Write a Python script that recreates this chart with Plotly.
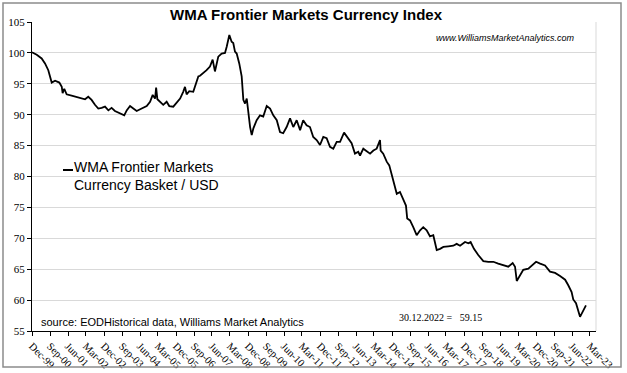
import plotly.graph_objects as go

# ---- data ----
dates = [
    "1999-12-01", "2000-02-11", "2000-04-26", "2000-06-16", "2000-08-05", "2000-09-11", "2000-09-26",
    "2000-11-16", "2001-01-20", "2001-02-26", "2001-03-11", "2001-04-05", "2001-05-11", "2001-07-26",
    "2001-10-11", "2001-12-26", "2002-02-15", "2002-04-05", "2002-05-26", "2002-07-16", "2002-09-05",
    "2002-10-26", "2002-12-16", "2003-02-05", "2003-03-26", "2003-05-16", "2003-08-01", "2003-10-05",
    "2003-11-11", "2004-01-01", "2004-02-20", "2004-04-11", "2004-06-26", "2004-09-11", "2004-11-01",
    "2004-12-11", "2005-01-16", "2005-02-01", "2005-02-20", "2005-04-01", "2005-05-20", "2005-07-11",
    "2005-08-20", "2005-10-20", "2005-12-11", "2006-02-01", "2006-03-20", "2006-04-16", "2006-05-11",
    "2006-06-20", "2006-08-20", "2006-10-01", "2006-11-05", "2006-12-01", "2007-01-20", "2007-03-11",
    "2007-05-01", "2007-06-11", "2007-07-16", "2007-09-05", "2007-10-26", "2007-12-16", "2008-01-11",
    "2008-02-20", "2008-03-26", "2008-04-20", "2008-05-16", "2008-06-11", "2008-07-20", "2008-08-26",
    "2008-09-20", "2008-10-16", "2008-11-11", "2008-12-05", "2009-01-01", "2009-01-26", "2009-02-20",
    "2009-04-11", "2009-06-01", "2009-07-20", "2009-09-11", "2009-11-01", "2009-12-20", "2010-02-11",
    "2010-04-01", "2010-05-20", "2010-07-11", "2010-09-01", "2010-10-20", "2010-12-11", "2011-02-01",
    "2011-03-20", "2011-05-11", "2011-07-01", "2011-08-20", "2011-10-11", "2011-12-01", "2012-01-20",
    "2012-03-11", "2012-05-01", "2012-06-20", "2012-08-11", "2012-10-01", "2012-12-01", "2013-02-05",
    "2013-03-26", "2013-05-16", "2013-07-05", "2013-08-01", "2013-09-20", "2013-11-11", "2014-01-01",
    "2014-02-20", "2014-04-11", "2014-06-01", "2014-06-11", "2014-07-20", "2014-09-11", "2014-10-20",
    "2014-11-26", "2015-01-01", "2015-02-11", "2015-04-01", "2015-05-20", "2015-07-01", "2015-07-20",
    "2015-09-01", "2015-10-20", "2015-12-11", "2016-02-01", "2016-03-20", "2016-05-11", "2016-07-01",
    "2016-08-20", "2016-10-11", "2016-12-01", "2017-01-20", "2017-04-05", "2017-06-20", "2017-08-11",
    "2017-10-01", "2017-12-16", "2018-02-05", "2018-03-11", "2018-05-01", "2018-07-05", "2018-09-20",
    "2018-12-05", "2019-02-20", "2019-05-05", "2019-07-20", "2019-10-05", "2019-12-11", "2020-01-16",
    "2020-02-11", "2020-04-01", "2020-05-20", "2020-08-05", "2020-10-11", "2020-12-01", "2021-02-01",
    "2021-04-16", "2021-07-01", "2021-09-16", "2021-12-01", "2022-02-16", "2022-04-05", "2022-05-26",
    "2022-06-20", "2022-08-01", "2022-10-01", "2022-12-30",
]
values = [
    100.1, 99.7, 99.1, 98.3, 97.2, 95.9, 95.2,
    95.5, 95.2, 94.5, 93.5, 94.2, 93.3, 93.1,
    92.9, 92.6, 92.5, 92.9, 92.4, 91.6, 91.0,
    91.1, 91.3, 90.7, 91.1, 90.6, 90.2, 89.9,
    90.7, 91.4, 91.0, 90.6, 91.0, 91.4, 92.1,
    93.2, 92.6, 94.4, 92.5, 92.1, 91.6, 92.1,
    91.4, 91.3, 92.0, 92.6, 93.7, 94.5, 93.3,
    93.8, 93.7, 95.1, 96.2, 96.3, 96.7, 97.2,
    97.8, 98.9, 97.0, 99.4, 99.9, 100.0, 101.0,
    102.9, 101.8, 101.6, 100.2, 99.9, 98.3, 96.2,
    92.4, 91.8, 92.6, 90.2, 88.0, 86.7, 87.8,
    89.1, 89.9, 89.7, 91.4, 91.0, 89.9, 89.1,
    87.2, 87.0, 88.0, 89.4, 88.0, 89.1, 87.5,
    89.1, 88.3, 88.0, 86.4, 85.9, 85.1, 86.4,
    86.2, 84.8, 84.5, 85.6, 85.6, 87.1, 86.2,
    85.4, 83.7, 84.0, 83.4, 84.5, 84.1, 83.7,
    84.2, 84.5, 85.9, 84.2, 83.7, 82.4, 81.8,
    80.2, 78.8, 77.2, 77.5, 76.4, 75.3, 73.2,
    72.9, 71.8, 70.5, 71.3, 71.8, 71.3, 70.3,
    70.5, 68.1, 68.3, 68.6, 68.7, 68.8, 69.1,
    68.8, 69.4, 69.2, 69.4, 68.3, 67.3, 66.3,
    66.2, 66.2, 65.9, 65.6, 65.4, 66.0, 65.4,
    63.1, 64.0, 64.9, 65.1, 65.7, 66.2, 65.9,
    65.6, 64.6, 64.4, 63.9, 63.3, 62.4, 61.3,
    60.1, 59.5, 57.3, 59.15,
]

tick_dates = [
    "1999-12-01", "2000-09-01", "2001-06-01", "2002-03-01", "2002-12-01", "2003-09-01",
    "2004-06-01", "2005-03-01", "2005-12-01", "2006-09-01", "2007-06-01", "2008-03-01",
    "2008-12-01", "2009-09-01", "2010-06-01", "2011-03-01", "2011-12-01", "2012-09-01",
    "2013-06-01", "2014-03-01", "2014-12-01", "2015-09-01", "2016-06-01", "2017-03-01",
    "2017-12-01", "2018-09-01", "2019-06-01", "2020-03-01", "2020-12-01", "2021-09-01",
    "2022-06-01", "2023-03-01",
]
tick_labels = [
    "Dec-99", "Sep-00", "Jun-01", "Mar-02", "Dec-02", "Sep-03", "Jun-04", "Mar-05",
    "Dec-05", "Sep-06", "Jun-07", "Mar-08", "Dec-08", "Sep-09", "Jun-10", "Mar-11",
    "Dec-11", "Sep-12", "Jun-13", "Mar-14", "Dec-14", "Sep-15", "Jun-16", "Mar-17",
    "Dec-17", "Sep-18", "Jun-19", "Mar-20", "Dec-20", "Sep-21", "Jun-22", "Mar-23",
]
y_ticks = [55, 60, 65, 70, 75, 80, 85, 90, 95, 100, 105]

series_name = "WMA Frontier Markets<br>Currency Basket / USD"
title_text = "WMA Frontier Markets Currency Index"
site_text = "www.WilliamsMarketAnalytics.com"
source_text = "source: EODHistorical data, Williams Market Analytics"
last_text = "30.12.2022 =   59.15"

# ---- layout geometry (pixels) ----
W, H = 627, 373
L, R, T, B = 32, 596, 22, 331


def px(x):
    return (x - L) / (R - L)


def py(y):
    return (B - y) / (B - T)


fig = go.Figure()
fig.add_trace(go.Scatter(
    x=dates, y=values, mode="lines", name=series_name,
    line=dict(color="#000000", width=1.8), showlegend=False,
))

serif = "Liberation Serif, Times New Roman, serif"
sans = "Liberation Sans, Arial, sans-serif"

fig.update_layout(
    width=W, height=H,
    margin=dict(l=L, r=W - R, t=T, b=H - B, pad=0, autoexpand=False),
    paper_bgcolor="white", plot_bgcolor="white",
    xaxis=dict(
        type="date", range=["1999-12-01", "2023-06-01"],
        tickmode="array", tickvals=tick_dates, ticktext=tick_labels,
        tickangle=45, ticks="outside", ticklen=4, tickcolor="#000",
        showline=True, linecolor="#000", linewidth=1,
        showgrid=False, zeroline=False, automargin=False,
        tickfont=dict(family=serif, size=10.5, color="#000"),
    ),
    yaxis=dict(
        range=[55, 105], tickmode="array", tickvals=y_ticks,
        ticks="outside", ticklen=4, tickcolor="#000",
        showline=True, linecolor="#000", linewidth=1,
        showgrid=True, gridcolor="#d9d9d9", gridwidth=1,
        zeroline=False, automargin=False,
        tickfont=dict(family=serif, size=11, color="#000"),
    ),
)

shapes = [
    # plot area right border
    dict(type="line", xref="paper", yref="paper", x0=1, x1=1, y0=0, y1=1,
         line=dict(color="#d9d9d9", width=1)),
    # outer chart border
    dict(type="rect", xref="paper", yref="paper",
         x0=px(3), x1=px(621), y0=py(367), y1=py(3),
         line=dict(color="#8c8c8c", width=1.5)),
    # legend line sample
    dict(type="line", xref="paper", yref="paper",
         x0=px(63), x1=px(73), y0=py(170), y1=py(170),
         line=dict(color="#000", width=2)),
]
fig.update_layout(shapes=shapes)

annotations = [
    dict(text="<b>" + title_text + "</b>", x=px(306), y=py(14), xref="paper", yref="paper",
         showarrow=False, xanchor="center", yanchor="middle",
         font=dict(family=sans, size=15, color="#000")),
    dict(text="<i>" + site_text + "</i>", x=px(576), y=py(38), xref="paper", yref="paper",
         showarrow=False, xanchor="right", yanchor="middle",
         font=dict(family=sans, size=9, color="#000")),
    dict(text=series_name, x=px(72), y=py(176), xref="paper", yref="paper",
         showarrow=False, xanchor="left", yanchor="middle", align="left",
         font=dict(family=sans, size=14, color="#000")),
    dict(text=source_text, x=px(39), y=py(322), xref="paper", yref="paper",
         showarrow=False, xanchor="left", yanchor="middle",
         font=dict(family=sans, size=11, color="#000")),
    dict(text=last_text.replace(" ", "&nbsp;"), x=px(397), y=py(317), xref="paper", yref="paper",
         showarrow=False, xanchor="left", yanchor="middle",
         font=dict(family=serif, size=10, color="#000")),
]
fig.update_layout(annotations=annotations)

fig.write_html(
    "out.html",
    config={"displayModeBar": False},
    post_script="document.body.style.margin='0';document.body.style.overflow='hidden';",
)
